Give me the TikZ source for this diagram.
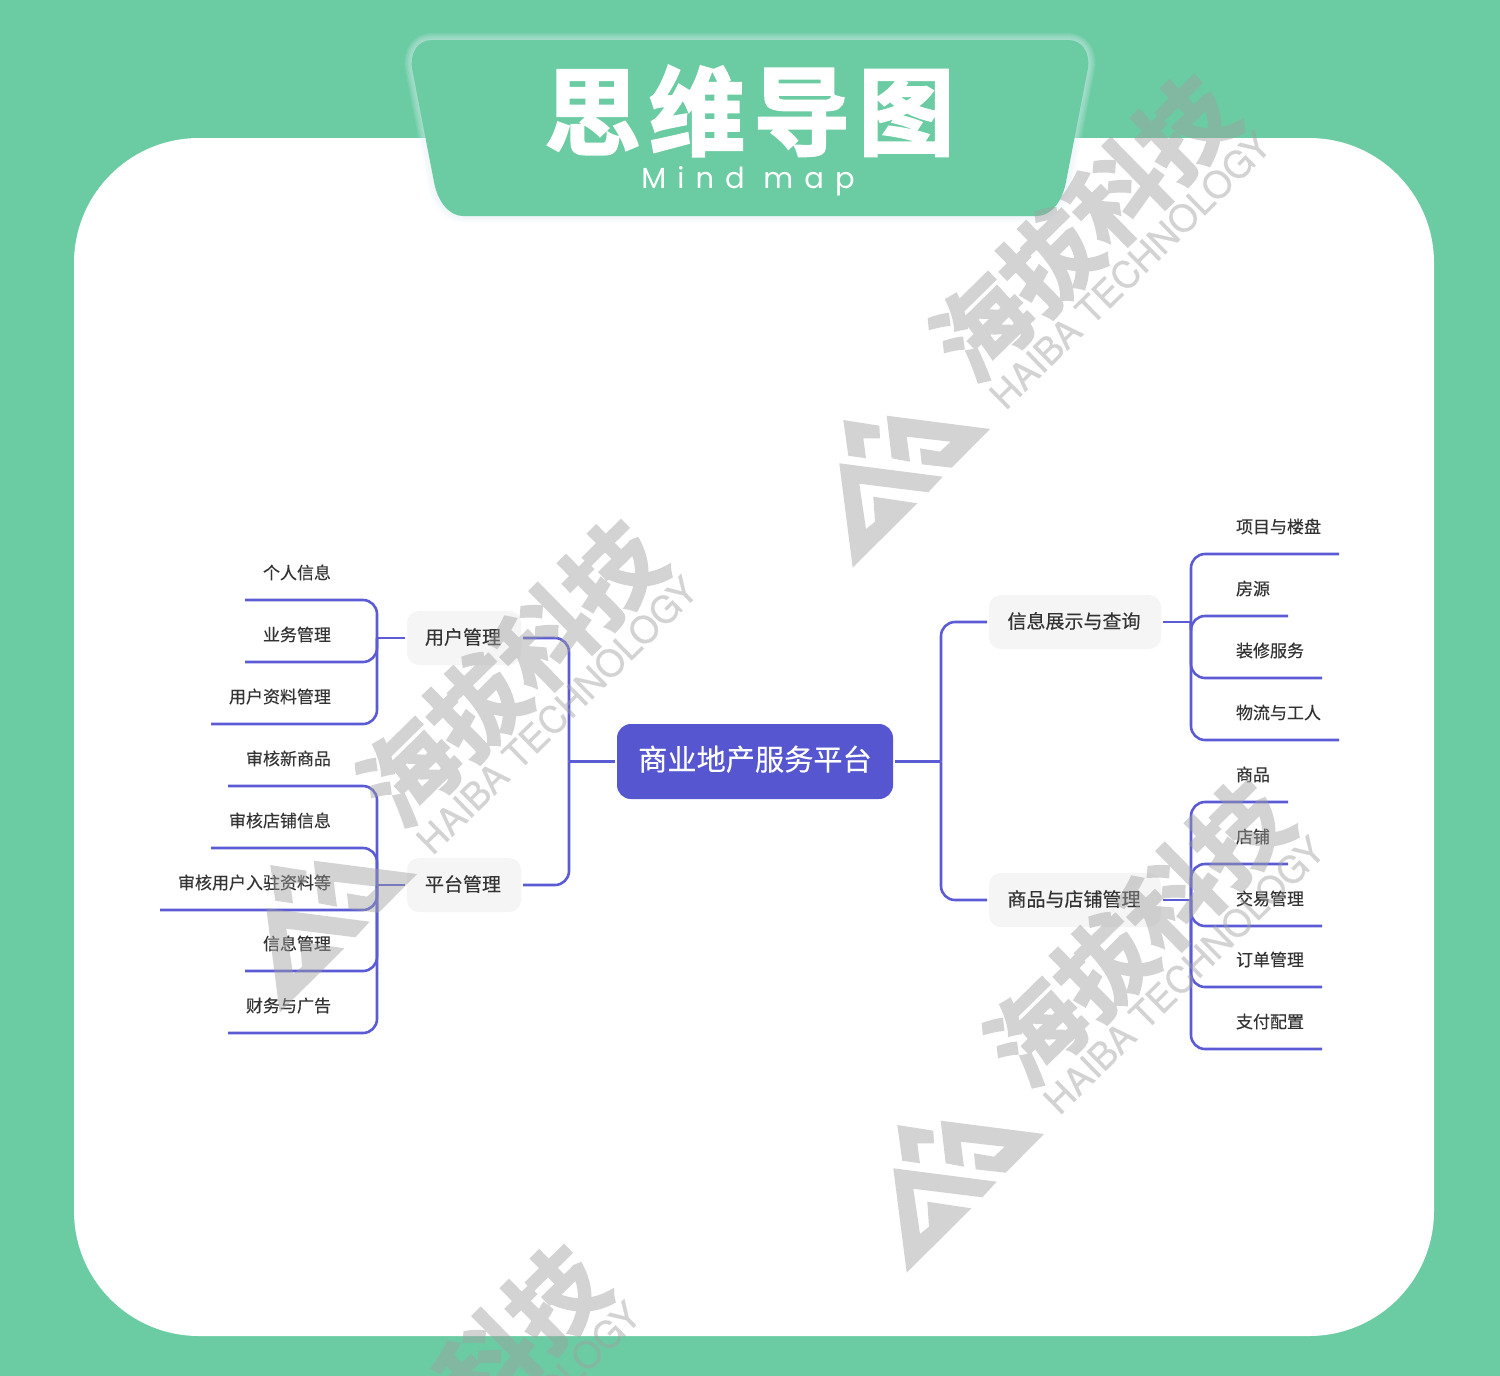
\documentclass[tikz,border=0pt]{standalone}
\usepackage{fontspec}
\setmainfont{Noto Sans CJK SC}
\newfontfamily\cjk[FakeBold=0.25]{Noto Sans CJK SC}
\newfontfamily\cjkheavy[UprightFont=* Bold,FakeBold=2.5]{Noto Sans CJK SC}
\newfontfamily\cjktitle[UprightFont=* Bold,FakeBold=2.5,LetterSpace=9]{Noto Sans CJK SC}
\newfontfamily\latinsub[LetterSpace=38]{Poppins}
\newfontfamily\latinwm[FakeBold=0.6]{TeX Gyre Heros}
\definecolor{bggreen}{HTML}{6BCCA3}
\definecolor{nodeblue}{HTML}{5656D0}
\definecolor{linkblue}{HTML}{5B5BD6}
\definecolor{boxgray}{HTML}{F5F5F5}
\definecolor{inkgray}{HTML}{333333}
\definecolor{wmgray}{HTML}{9F9F9F}
\definecolor{glowc}{HTML}{E6F0FA}
\tikzset{
  rootbox/.style={rounded corners=14pt,fill=nodeblue,text=white,minimum width=276pt,minimum height=75pt,inner sep=0pt,outer sep=2pt,text height=25pt,text depth=7.5pt,font=\cjk\fontsize{29.2}{32}\selectfont},
  branchbox/.style={rounded corners=12pt,fill=boxgray,text=inkgray,minimum height=54pt,inner sep=0pt,outer sep=2pt,text height=16pt,text depth=3.5pt,execute at end node=\kern2pt,font=\cjk\fontsize{19}{22}\selectfont},
  leafbox/.style={text=inkgray,minimum height=54pt,inner xsep=18pt,inner ysep=0pt,outer sep=0pt,text height=15pt,text depth=3pt,font=\cjk\fontsize{17}{20}\selectfont},
  leafl/.style={leafbox,anchor=east},
  leafr/.style={leafbox,anchor=west},
  conn/.style={draw=linkblue,line width=2.6pt,rounded corners=14pt},
  wmgroup/.style={transparency group,opacity=.45},
  wmtext/.style={text=wmgray,rotate=44.5,inner sep=0pt},
}
\newcommand\wmark[2]{%
  \begin{scope}[shift={(830+#1,405+#2)},wmgroup]
    \fill[wmgray] (13.3,15)--(49.3,20.7)--(50,33.3)--(33.3,33.3)--(36,53.3)--(18.3,50.7)--cycle;
    \fill[wmgray] (56.7,10.7)--(160,24)--(121.7,62.7)--(91.7,59.3)--(90,43.3)--(110,46.7)--(120.7,36.7)--(76.7,31.7)--(80,56.7)--(61.7,53.3)--cycle;
    \fill[wmgray] (9.3,58.3)--(112.7,71.7)--(98.3,87.3)--(29.3,78.7)--(36,124)--(45,116.7)--(43.3,91.7)--(87.3,98.3)--(22.7,162.7)--cycle;
    \node[wmtext,font=\cjkheavy\fontsize{95}{100}\selectfont] at (254,-178) {海拔科技};
    \node[wmtext,font=\latinwm\fontsize{37}{40}\selectfont] at (300,-135) {HAIBA TECHNOLOGY};
  \end{scope}}
\begin{document}
\begin{tikzpicture}[x=1pt,y=-1pt]
\useasboundingbox (0,0) rectangle (1500,1376);
\clip (0,0) rectangle (1500,1376);
\fill[bggreen] (0,0) rectangle (1500,1376);
\fill[white,rounded corners=125pt] (74,138) rectangle (1434,1336);
% header
\def\hdrpath{(432,40) -- (1068,40) .. controls (1082,40) and (1090,52) .. (1088,68) -- (1066,182) .. controls (1062,203) and (1050,216) .. (1037,216) -- (463,216) .. controls (450,216) and (438,203) .. (434,182) -- (412,68) .. controls (410,52) and (418,40) .. (432,40) -- cycle}
\foreach \w in {14,11,8,5,2}{\draw[glowc,line width=\w pt,opacity=.13] \hdrpath;}
\fill[bggreen] \hdrpath;
\node (title) at (749.5,111) [inner sep=0pt,text=white,font=\cjktitle\fontsize{96}{100}\selectfont] {思维导图};
\node (subtitle) at (748,181) [inner sep=0pt,text=white,font=\latinsub\fontsize{29}{32}\selectfont] {Mind map};
% main nodes
\node[rootbox] (root) at (755,761.5) {商业地产服务平台};
\node[branchbox,minimum width=114pt] (b1) at (464,638) {用户管理};
\node[branchbox,minimum width=114pt] (b2) at (464,885) {平台管理};
\node[branchbox,minimum width=172pt] (b3) at (1075,622) {信息展示与查询};
\node[branchbox,minimum width=172pt] (b4) at (1075,900) {商品与店铺管理};
% junctions
\coordinate (jl) at (569,761.5);
\coordinate (jr) at (941,761.5);
\coordinate (j1) at (377,638);
\coordinate (j2) at (377,885);
\coordinate (j3) at (1191,622);
\coordinate (j4) at (1191,900);
% leaves, left
\node[leafl] (a1) at (349,573) {个人信息};
\node[leafl] (a2) at (349,635) {业务管理};
\node[leafl] (a3) at (349,697) {用户资料管理};
\node[leafl] (c1) at (349,759) {审核新商品};
\node[leafl] (c2) at (349,821) {审核店铺信息};
\node[leafl] (c3) at (349,883) {审核用户入驻资料等};
\node[leafl] (c4) at (349,944) {信息管理};
\node[leafl] (c5) at (349,1006) {财务与广告};
% leaves, right
\node[leafr] (d1) at (1218,527) {项目与楼盘};
\node[leafr] (d2) at (1218,589) {房源};
\node[leafr] (d3) at (1218,651) {装修服务};
\node[leafr] (d4) at (1218,713) {物流与工人};
\node[leafr] (e1) at (1218,775) {商品};
\node[leafr] (e2) at (1218,837) {店铺};
\node[leafr] (e3) at (1218,899) {交易管理};
\node[leafr] (e4) at (1218,960) {订单管理};
\node[leafr] (e5) at (1218,1022) {支付配置};
% connectors
\draw[conn] (root.west) -- (jl);
\draw[conn] (root.east) -- (jr);
\draw[conn] (jl) |- (b1.east);
\draw[conn] (jl) |- (b2.east);
\draw[conn] (jr) |- (b3.west);
\draw[conn] (jr) |- (b4.west);
\draw[conn] (b1.west) -- (j1);
\draw[conn] (b2.west) -- (j2);
\draw[conn] (b3.east) -- (j3);
\draw[conn] (b4.east) -- (j4);
\foreach \n in {a1,a2,a3}{\draw[conn] (j1) |- (\n.south west);}
\foreach \n in {c1,c2,c3,c4,c5}{\draw[conn] (j2) |- (\n.south west);}
\foreach \n in {d1,d2,d3,d4}{\draw[conn] (j3) |- (\n.south east);}
\foreach \n in {e1,e2,e3,e4,e5}{\draw[conn] (j4) |- (\n.south east);}
% watermarks
\wmark{0}{0}
\wmark{54}{705}
\wmark{-573}{445}
\wmark{-630}{1170}
\end{tikzpicture}
\end{document}
